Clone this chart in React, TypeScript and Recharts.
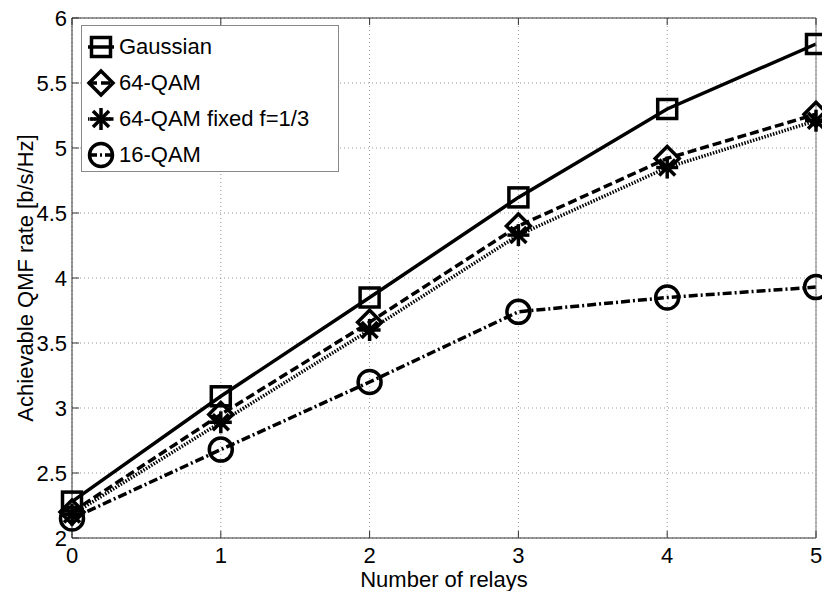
import React from 'react';
import { LineChart, Line, XAxis, YAxis, CartesianGrid, Legend } from 'recharts';

// ---------- data ----------
const relays = [0, 1, 2, 3, 4, 5];
const gaussian = [2.28, 3.09, 3.85, 4.62, 5.3, 5.8];
const qam64 = [2.2, 2.95, 3.66, 4.4, 4.92, 5.26];
const qam64Fixed = [2.18, 2.89, 3.6, 4.33, 4.85, 5.21];
const qam16 = [2.15, 2.68, 3.2, 3.74, 3.85, 3.93];
const xTicks = [0, 1, 2, 3, 4, 5];
const yTicks = [2, 2.5, 3, 3.5, 4, 4.5, 5, 5.5, 6];
const seriesNames = ['Gaussian', '64-QAM', '64-QAM fixed f=1/3', '16-QAM'];
const xLabel = 'Number of relays';
const yLabel = 'Achievable QMF rate [b/s/Hz]';

const data = relays.map((r, i) => ({
  relays: r,
  gaussian: gaussian[i],
  qam64: qam64[i],
  qam64Fixed: qam64Fixed[i],
  qam16: qam16[i],
}));

// ---------- styles ----------
const W = 822;
const H = 591;
const FONT = '"Liberation Sans", Arial, Helvetica, sans-serif';
const FS = 22;
const TICK_LEN = 7;
const AXIS_COLOR = '#333';
const LW = 3.5;

type MarkerKind = 'square' | 'diamond' | 'star' | 'circle';

const Marker = ({ kind, cx, cy }: { kind: MarkerKind; cx: number; cy: number }) => {
  const sw = LW;
  if (kind === 'square') {
    return <rect x={cx - 9.5} y={cy - 9.5} width={19} height={19} fill="none" stroke="#000" strokeWidth={sw} />;
  }
  if (kind === 'diamond') {
    const r = 12;
    return (
      <polygon
        points={`${cx},${cy - r} ${cx + r},${cy} ${cx},${cy + r} ${cx - r},${cy}`}
        fill="none"
        stroke="#000"
        strokeWidth={sw}
      />
    );
  }
  if (kind === 'circle') {
    return <circle cx={cx} cy={cy} r={11.5} fill="none" stroke="#000" strokeWidth={sw} />;
  }
  const a = 11;
  const d = 8;
  return (
    <g stroke="#000" strokeWidth={sw}>
      <line x1={cx - a} y1={cy} x2={cx + a} y2={cy} />
      <line x1={cx} y1={cy - a} x2={cx} y2={cy + a} />
      <line x1={cx - d} y1={cy - d} x2={cx + d} y2={cy + d} />
      <line x1={cx - d} y1={cy + d} x2={cx + d} y2={cy - d} />
    </g>
  );
};

const seriesDefs: { key: string; name: string; marker: MarkerKind; dash?: string }[] = [
  { key: 'gaussian', name: seriesNames[0], marker: 'square' },
  { key: 'qam64', name: seriesNames[1], marker: 'diamond', dash: '9 4' },
  { key: 'qam64Fixed', name: seriesNames[2], marker: 'star', dash: '1.5 1.5' },
  { key: 'qam16', name: seriesNames[3], marker: 'circle', dash: '9 3 2 3' },
];

const makeDot = (kind: MarkerKind, key: string) => (props: any) => {
  const { cx, cy, index } = props;
  if (cx == null || cy == null) return <g key={`${key}-${index}`} />;
  return (
    <g key={`${key}-${index}`}>
      <Marker kind={kind} cx={cx} cy={cy} />
    </g>
  );
};

// ---------- ticks ----------
const BottomTick = (props: any) => {
  const { x, y, payload } = props;
  return (
    <g>
      <line x1={x} y1={y} x2={x} y2={y - TICK_LEN} stroke={AXIS_COLOR} />
      <text x={x} y={y + 25} textAnchor="middle" fontSize={FS} fontFamily={FONT} fill="#000">
        {payload.value}
      </text>
    </g>
  );
};

const LeftTick = (props: any) => {
  const { x, y, payload } = props;
  return (
    <g>
      <line x1={x} y1={y} x2={x + TICK_LEN} y2={y} stroke={AXIS_COLOR} />
      <text x={x - 5} y={y + 8} textAnchor="end" fontSize={FS} fontFamily={FONT} fill="#000">
        {payload.value}
      </text>
    </g>
  );
};

const TopTick = (props: any) => {
  const { x, y } = props;
  return <line x1={x} y1={y} x2={x} y2={y + TICK_LEN} stroke={AXIS_COLOR} />;
};

const RightTick = (props: any) => {
  const { x, y } = props;
  return <line x1={x} y1={y} x2={x - TICK_LEN} y2={y} stroke="#777" />;
};

// ---------- legend ----------
const LegendBox = () => (
  <div
    style={{
      position: 'relative',
      width: 258,
      height: 147,
      border: '1px solid #888',
      background: '#fff',
      boxSizing: 'border-box',
    }}
  >
    {seriesDefs.map((s, i) => (
      <div
        key={s.key}
        style={{
          position: 'absolute',
          left: 0,
          top: 22 + i * 36 - 18 - 1,
          height: 36,
          display: 'flex',
          alignItems: 'center',
          whiteSpace: 'nowrap',
        }}
      >
        <svg width={37} height={36} style={{ display: 'block' }}>
          <line x1={6} y1={18} x2={32} y2={18} stroke="#000" strokeWidth={LW} strokeDasharray={s.dash} />
          <Marker kind={s.marker} cx={19} cy={18} />
        </svg>
        <span style={{ fontSize: FS, fontFamily: FONT, lineHeight: '36px', color: '#000' }}>{s.name}</span>
      </div>
    ))}
  </div>
);

export default function App() {
  return (
    <div style={{ position: 'absolute', left: 0, top: 0, width: W, height: H, background: '#fff' }}>
      <LineChart width={W} height={H} data={data} margin={{ top: 0, right: 0, bottom: 0, left: 0 }}>
        <CartesianGrid stroke="#999" strokeDasharray="1 3" />
        <XAxis
          dataKey="relays"
          type="number"
          domain={[0, 5]}
          ticks={xTicks}
          height={53}
          tickSize={0}
          tickMargin={0}
          tickLine={false}
          axisLine={{ stroke: AXIS_COLOR }}
          tick={<BottomTick />}
          interval={0}
          label={{
            content: (p: any) => {
              const vb = p.viewBox || { x: 72, y: 538, width: 744, height: 53 };
              return (
                <text x={vb.x + vb.width / 2} y={vb.y + 49} textAnchor="middle" fontSize={FS} fontFamily={FONT} fill="#000">
                  {xLabel}
                </text>
              );
            },
          }}
        />
        <XAxis
          xAxisId="top"
          orientation="top"
          dataKey="relays"
          type="number"
          domain={[0, 5]}
          ticks={xTicks}
          height={18}
          tickSize={0}
          tickMargin={0}
          tickLine={false}
          axisLine={{ stroke: AXIS_COLOR }}
          tick={<TopTick />}
          interval={0}
        />
        <YAxis
          type="number"
          domain={[2, 6]}
          ticks={yTicks}
          width={72}
          tickSize={0}
          tickMargin={0}
          tickLine={false}
          axisLine={{ stroke: AXIS_COLOR }}
          tick={<LeftTick />}
          interval={0}
          label={{
            content: (p: any) => {
              const vb = p.viewBox || { x: 0, y: 18, width: 72, height: 520 };
              const cx = vb.x + 33;
              const cy = vb.y + vb.height / 2;
              return (
                <text
                  x={cx}
                  y={cy}
                  transform={`rotate(-90 ${cx} ${cy})`}
                  textAnchor="middle"
                  fontSize={FS}
                  fontFamily={FONT}
                  fill="#000"
                >
                  {yLabel}
                </text>
              );
            },
          }}
        />
        <YAxis
          yAxisId="right"
          orientation="right"
          type="number"
          domain={[2, 6]}
          ticks={yTicks}
          width={6}
          tickSize={0}
          tickMargin={0}
          tickLine={false}
          axisLine={{ stroke: '#777' }}
          tick={<RightTick />}
          interval={0}
        />
        {seriesDefs.map((s) => (
          <Line
            key={s.key}
            dataKey={s.key}
            name={s.name}
            type="linear"
            stroke="#000"
            strokeWidth={LW}
            strokeDasharray={s.dash}
            dot={makeDot(s.marker, s.key)}
            activeDot={false}
            isAnimationActive={false}
          />
        ))}
        <Legend
          layout="vertical"
          align="center"
          verticalAlign="middle"
          content={() => <LegendBox />}
          wrapperStyle={{ left: 81, top: 25, width: 258, height: 147, bottom: 'auto', right: 'auto' }}
        />
      </LineChart>
    </div>
  );
}
